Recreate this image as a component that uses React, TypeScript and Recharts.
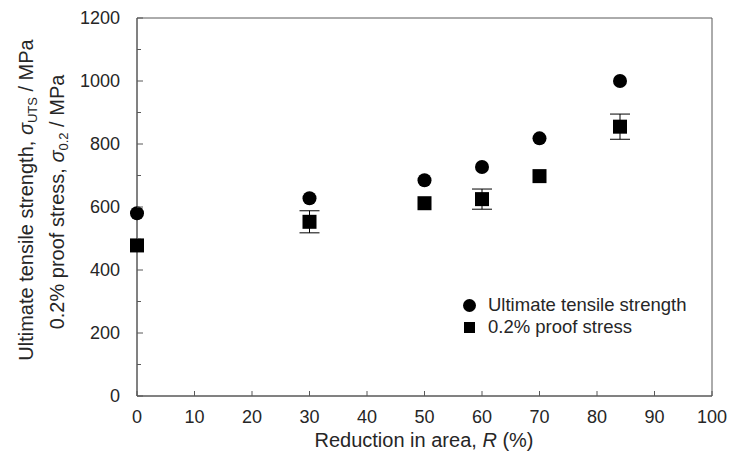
import { ScatterChart, Scatter, XAxis, YAxis, ErrorBar, ReferenceArea, Label } from 'recharts'

const reduction = [0, 30, 50, 60, 70, 84]
const utsValues = [580, 628, 685, 727, 818, 1000]
const proofValues = [478, 553, 612, 625, 698, 855]
const proofError = [0, 35, 0, 32, 0, 40]
const xTicks = [0, 10, 20, 30, 40, 50, 60, 70, 80, 90, 100]
const yTicks = [0, 100, 200, 300, 400, 500, 600, 700, 800, 900, 1000, 1100, 1200]
const seriesNames = ['Ultimate tensile strength', '0.2% proof stress']

const utsData = reduction.map((r, i) => ({ r, v: utsValues[i] }))
const proofData = reduction.map((r, i) => ({ r, v: proofValues[i], err: proofError[i] }))

const FONT = '"Liberation Sans", Arial, sans-serif'
const AXIS = '#595959'
const TEXT = '#262626'
const Y_MARGIN = 17
const X_MARGIN = 13

function YTick({ x, y, payload }: any) {
  const axisX = x + Y_MARGIN
  const major = payload.value % 200 === 0
  return (
    <g>
      <line x1={axisX} x2={axisX + (major ? 6 : 4)} y1={y} y2={y} stroke={AXIS} />
      {major && (
        <text x={x} y={y} textAnchor="end" dominantBaseline="central" fontSize={18} fill={TEXT} fontFamily={FONT}>
          {payload.value}
        </text>
      )}
    </g>
  )
}

function XTick({ x, y, payload }: any) {
  const axisY = y - X_MARGIN
  return (
    <g>
      <line x1={x} x2={x} y1={axisY} y2={axisY - 5} stroke={AXIS} />
      <text x={x} y={y} dy="0.75em" textAnchor="middle" fontSize={18} fill={TEXT} fontFamily={FONT}>
        {payload.value}
      </text>
    </g>
  )
}

const Circle = (p: any) => <circle cx={p.cx} cy={p.cy} r={7} fill="#000" />
const Square = (p: any) => <rect x={p.cx - 7} y={p.cy - 7} width={14} height={14} fill="#000" />

function YTitle() {
  return (
    <g fontFamily={FONT} fontSize={20} fill={TEXT}>
      <text transform="rotate(-90, 33, 200)" x={33} y={200} textAnchor="middle">
        Ultimate tensile strength, <tspan fontStyle="italic">σ</tspan>
        <tspan fontSize={13} dy={4}>UTS</tspan>
        <tspan dy={-4}> / MPa</tspan>
      </text>
      <text transform="rotate(-90, 64, 202)" x={64} y={202} textAnchor="middle">
        0.2% proof stress, <tspan fontStyle="italic">σ</tspan>
        <tspan fontSize={13} dy={4}>0.2</tspan>
        <tspan dy={-4}> / MPa</tspan>
      </text>
    </g>
  )
}

function XTitle() {
  return (
    <text x={424} y={447} textAnchor="middle" fontFamily={FONT} fontSize={20} fill={TEXT}>
      Reduction in area, <tspan fontStyle="italic">R</tspan> (%)
    </text>
  )
}

function LegendBox() {
  const row = { display: 'flex', alignItems: 'center', height: 22 }
  return (
    <div style={{ position: 'absolute', left: 463, top: 294, fontFamily: FONT, fontSize: 18.5, color: TEXT, lineHeight: '22px' }}>
      <div style={row}>
        <span style={{ width: 13, height: 13, borderRadius: '50%', background: '#000', marginRight: 12 }} />
        {seriesNames[0]}
      </div>
      <div style={row}>
        <span style={{ width: 11, height: 11, background: '#000', marginLeft: 1, marginRight: 13 }} />
        {seriesNames[1]}
      </div>
    </div>
  )
}

export default function App() {
  return (
    <div style={{ position: 'absolute', left: 0, top: 0, width: 737, height: 461, background: '#fff' }}>
      <ScatterChart width={737} height={461} margin={{ top: 18, right: 25, left: 0, bottom: 0 }}>
        <ReferenceArea x1={0} x2={100} y1={0} y2={1200} fill="none" stroke={AXIS} strokeWidth={1} />
        <XAxis
          type="number"
          dataKey="r"
          domain={[0, 100]}
          ticks={xTicks}
          height={65}
          tickSize={0}
          tickMargin={X_MARGIN}
          tick={<XTick />}
          axisLine={{ stroke: AXIS }}
          tickLine={false}
          interval={0}
        >
          <Label content={<XTitle />} />
        </XAxis>
        <YAxis
          type="number"
          dataKey="v"
          domain={[0, 1200]}
          ticks={yTicks}
          width={137}
          tickSize={0}
          tickMargin={Y_MARGIN}
          tick={<YTick />}
          axisLine={{ stroke: AXIS }}
          tickLine={false}
          interval={0}
        >
          <Label content={<YTitle />} />
        </YAxis>
        <Scatter name={seriesNames[0]} data={utsData} shape={Circle} isAnimationActive={false} />
        <Scatter name={seriesNames[1]} data={proofData} shape={Square} isAnimationActive={false}>
          <ErrorBar dataKey="err" direction="y" width={10} stroke="#000" strokeWidth={1} />
        </Scatter>
      </ScatterChart>
      <LegendBox />
    </div>
  )
}
